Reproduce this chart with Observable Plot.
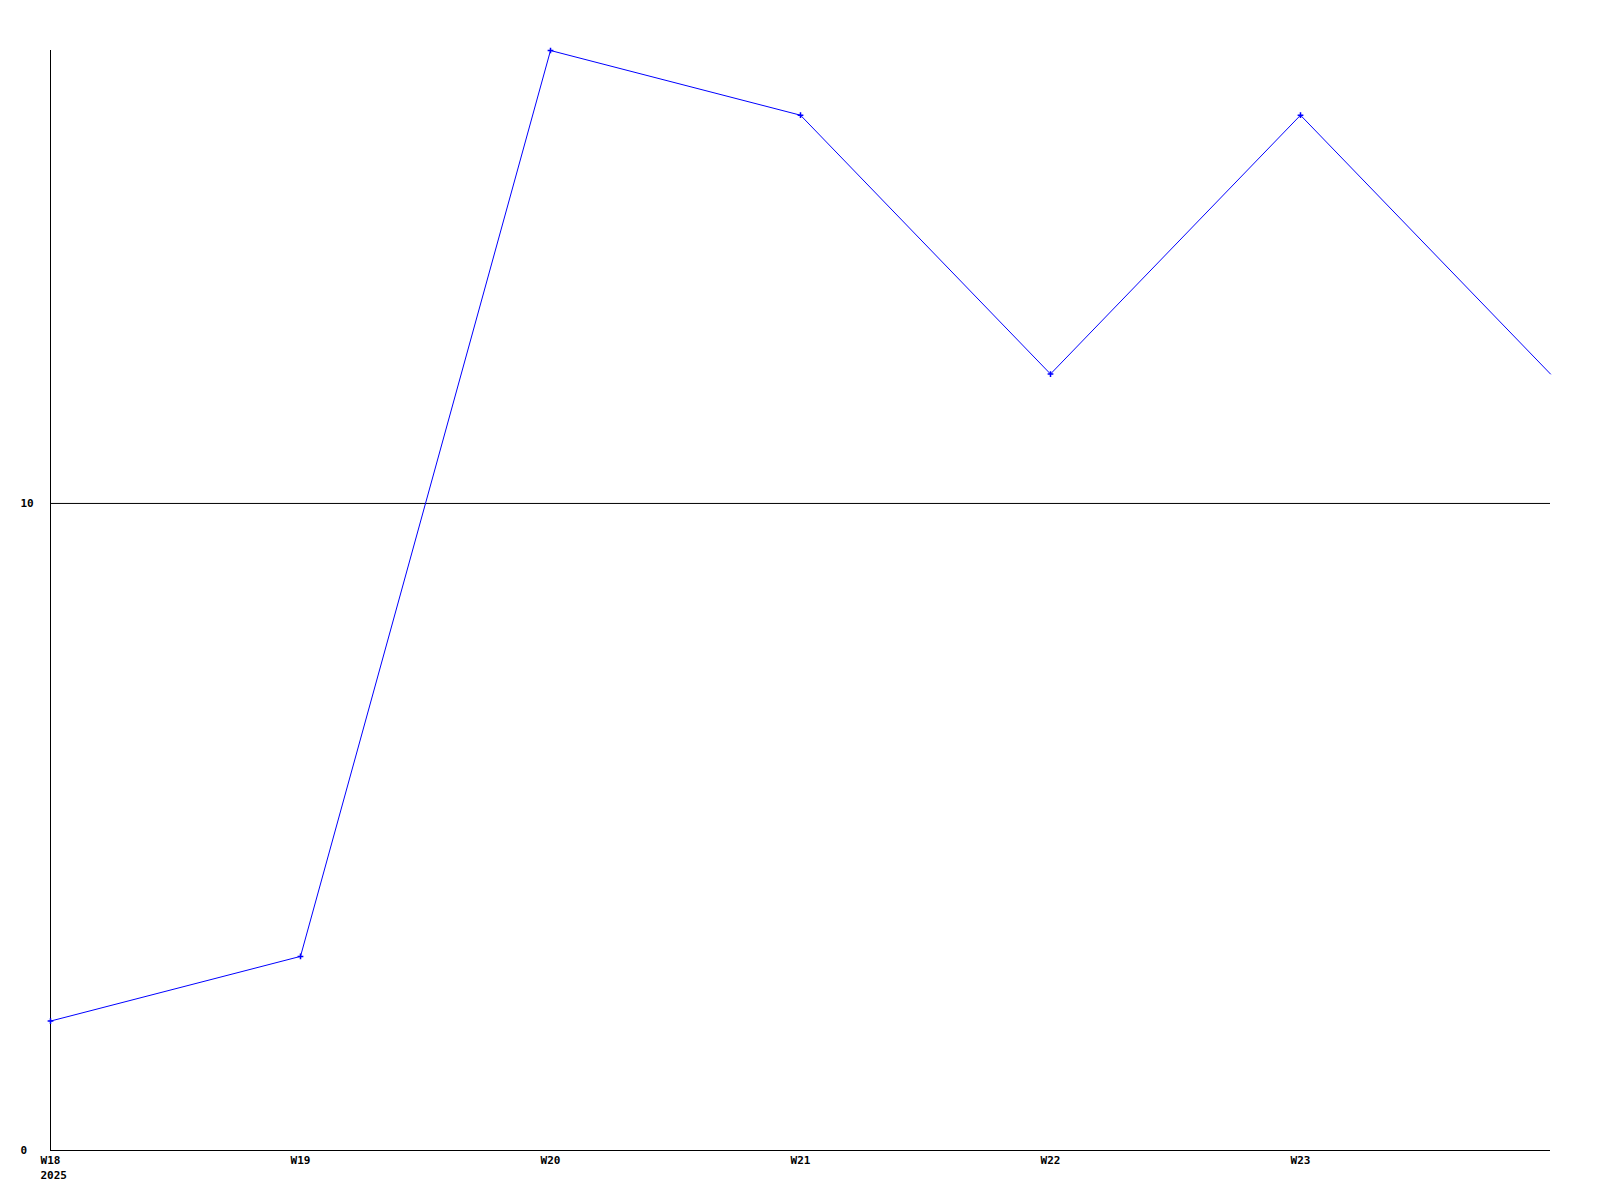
<!DOCTYPE html>
<html>
<head>
<meta charset="utf-8">
<script src="https://cdn.jsdelivr.net/npm/d3@7"></script>
<script src="https://cdn.jsdelivr.net/npm/@observablehq/plot@0.6"></script>
<style>
  html, body { margin: 0; padding: 0; background: #fff; }
  #chart svg { display: block; }
</style>
</head>
<body>
<div id="chart"></div>
<script>
const weeks = [18, 19, 20, 21, 22, 23, 24];
const values = [2, 3, 17, 16, 12, 16, 12];
const xTickWeeks = [18, 19, 20, 21, 22, 23];
const yTicks = [0, 10];
const yearLabel = "2025";

const data = weeks.map((w, i) => ({week: w, value: values[i]}));

const chart = Plot.plot({
  width: 1600,
  height: 1200,
  marginLeft: 50,
  marginRight: 50,
  marginTop: 50,
  marginBottom: 50,
  style: {fontFamily: "'DejaVu Sans Mono', monospace", fontSize: "11px", fontWeight: "bold", background: "#fff", color: "#000"},
  x: {type: "linear", domain: [18, 24]},
  y: {domain: [0, 17]},
  marks: [
    Plot.ruleY([10], {stroke: "#000", strokeWidth: 1}),
    Plot.ruleX([18], {stroke: "#000", strokeWidth: 1}),
    Plot.ruleY([0], {stroke: "#000", strokeWidth: 1}),
    Plot.axisX({ticks: xTickWeeks, tickSize: 0, tickPadding: 6, tickFormat: d => "W" + d, label: null}),
    Plot.text([{week: weeks[0]}], {x: "week", frameAnchor: "bottom", text: () => yearLabel, textAnchor: "start", dx: -10, dy: 28, fill: "#000"}),
    Plot.axisY({ticks: yTicks, tickSize: 0, tickPadding: 0, textAnchor: "start", dx: -30, label: null}),
    Plot.line(data, {x: "week", y: "value", stroke: "#0000ff", strokeWidth: 1}),
    Plot.dot(data.filter(d => d.week < 24), {x: "week", y: "value", symbol: "plus", r: 2, stroke: "#0000ff", strokeWidth: 1.5})
  ]
});
document.getElementById("chart").appendChild(chart);
</script>
</body>
</html>
